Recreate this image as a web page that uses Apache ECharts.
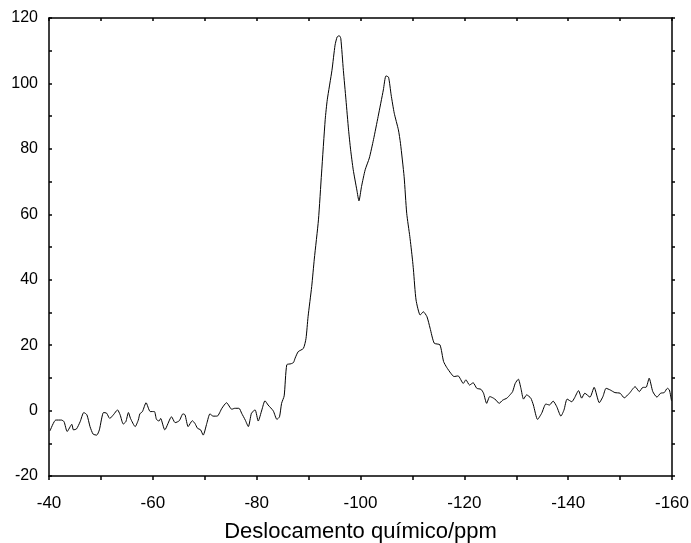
<!DOCTYPE html>
<html>
<head>
<meta charset="utf-8">
<script src="https://cdn.jsdelivr.net/npm/echarts@6/dist/echarts.min.js"></script>
<style>html,body{margin:0;padding:0;background:#fff;}#c{width:691px;height:543px;}</style>
</head>
<body>
<div id="c"></div>
<script>
const ppm = [-40.2,-41.3,-42.4,-42.9,-43.5,-44.4,-44.7,-45.3,-46.0,-46.7,-47.3,-47.9,-48.5,-49.2,-49.7,-50.5,-51.1,-51.7,-52.4,-53.2,-53.7,-54.3,-54.8,-55.3,-55.7,-56.6,-57.2,-57.5,-58.0,-58.7,-59.5,-60.3,-60.7,-61.2,-61.5,-62.3,-63.6,-64.3,-65.1,-65.8,-66.2,-66.8,-67.6,-68.1,-68.6,-69.2,-69.7,-70.4,-71.0,-71.6,-72.4,-73.3,-74.2,-75.2,-75.8,-76.6,-77.1,-77.8,-78.4,-79.0,-79.7,-80.3,-81.0,-81.6,-82.2,-83.2,-83.9,-84.4,-84.8,-85.3,-85.8,-86.6,-87.1,-87.4,-88.0,-89.0,-89.5,-89.9,-90.6,-91.1,-91.9,-92.5,-93.2,-93.6,-94.5,-95.1,-95.5,-95.9,-96.2,-96.7,-97.2,-97.7,-98.1,-98.6,-99.3,-99.7,-100.2,-100.9,-101.7,-102.5,-103.4,-104.4,-104.9,-105.4,-105.9,-106.5,-107.3,-107.7,-108.4,-108.9,-109.5,-110.0,-110.2,-110.7,-111.5,-112.1,-112.8,-113.4,-114.2,-115.3,-116.0,-116.6,-117.4,-118.0,-118.8,-119.8,-120.3,-121.0,-121.7,-122.4,-123.2,-123.7,-124.3,-124.9,-125.6,-126.1,-126.7,-127.4,-128.2,-128.8,-129.3,-129.8,-130.4,-130.9,-131.4,-132.0,-132.8,-133.3,-134.1,-134.9,-135.7,-136.4,-137.1,-137.8,-138.6,-139.2,-139.8,-140.7,-141.2,-142.0,-142.6,-143.2,-144.2,-145.0,-146.0,-146.7,-147.3,-148.1,-149.0,-150.0,-150.8,-151.8,-152.9,-153.7,-154.4,-155.0,-155.6,-156.3,-157.1,-157.8,-158.5,-159.1,-159.5,-159.9];
const intensity = [-6.2,-2.9,-2.9,-3.4,-6.4,-4.2,-5.9,-5.6,-3.4,-0.6,-1.3,-4.9,-7.2,-7.5,-5.9,-0.6,-0.8,-2.4,-1.3,0.2,-1.3,-4.1,-3.4,-0.6,-2.4,-4.9,-2.9,-1.0,-0.3,2.4,-0.3,-0.3,-2.7,-3.2,-2.4,-5.9,-1.9,-3.7,-3.1,-1.0,-1.3,-4.9,-3.1,-3.9,-5.4,-5.9,-7.5,-3.9,-1.0,-1.7,-1.7,0.7,2.4,0.4,0.7,0.7,-0.8,-2.9,-4.9,-0.8,0.2,-3.2,0.2,3.0,1.7,-0.1,-2.7,-1.9,2.2,4.5,14.0,14.3,14.7,16.0,18.0,19.0,22.0,28.7,37.9,46.3,58.3,72.6,88.9,95.0,104.0,111.7,114.2,114.6,113.8,104.0,95.0,85.8,79.7,73.6,67.4,64.1,68.5,73.6,77.2,82.8,89.9,98.0,102.3,101.9,96.5,90.9,85.8,81.7,71.5,60.3,53.2,46.3,43.0,33.8,29.2,30.2,28.7,25.2,20.6,20.1,15.0,13.2,11.4,10.4,10.6,8.3,9.4,7.8,8.5,6.8,6.5,5.3,2.2,4.3,3.8,3.2,2.2,3.2,3.8,4.8,5.8,8.3,9.6,6.8,3.5,4.8,3.8,1.7,-2.7,-0.8,2.0,1.7,2.9,1.2,-1.7,0.2,3.5,2.7,3.8,6.1,3.8,5.3,4.1,7.1,2.4,4.3,6.8,6.3,5.5,5.3,3.9,5.3,7.3,5.8,7.1,7.1,9.9,5.8,4.1,5.3,5.5,6.8,6.3,3.0];
const xTitle = 'Deslocamento químico/ppm';

const data = ppm.map((p, i) => [p, intensity[i]]);
const font = 'Liberation Sans, Arial, sans-serif';
const axisLine = { show: true, onZero: false, lineStyle: { color: '#000', width: 1.5 } };

const chart = echarts.init(document.getElementById('c'), null, { renderer: 'canvas' });
chart.setOption({
  animation: false,
  backgroundColor: '#fff',
  grid: { left: 49, right: 19, top: 18, bottom: 67, containLabel: false, outerBoundsMode: 'none' },
  xAxis: [{
    type: 'value', min: -160, max: -40, interval: 10, inverse: true, position: 'bottom',
    axisLine: axisLine,
    axisTick: { show: true, inside: false, length: 4, lineStyle: { color: '#000', width: 1.5 } },
    axisLabel: { color: '#000', fontSize: 17, fontFamily: font, margin: 19,
      formatter: v => (v % 20 === 0 ? String(v) : '') },
    splitLine: { show: false },
    name: xTitle, nameLocation: 'middle', nameGap: 45,
    nameTextStyle: { color: '#000', fontSize: 22, fontFamily: font }
  }, {
    type: 'value', min: -160, max: -40, interval: 10, inverse: true, position: 'top',
    axisLine: axisLine,
    axisTick: { show: true, inside: true, length: 3, lineStyle: { color: '#000', width: 1.5 } },
    axisLabel: { show: false }, splitLine: { show: false }
  }],
  yAxis: [{
    type: 'value', min: -20, max: 120, interval: 10, position: 'left',
    axisLine: axisLine,
    axisTick: { show: true, inside: true, length: 3, lineStyle: { color: '#000', width: 1.5 } },
    axisLabel: { color: '#000', fontSize: 16, fontFamily: font, margin: 11,
      formatter: v => (v % 20 === 0 ? String(v) : '') },
    splitLine: { show: false }
  }, {
    type: 'value', min: -20, max: 120, interval: 10, position: 'right',
    axisLine: axisLine,
    axisTick: { show: true, inside: false, length: 3, lineStyle: { color: '#000', width: 1.5 } },
    axisLabel: { show: false }, splitLine: { show: false }
  }],
  series: [{
    type: 'line', xAxisIndex: 0, yAxisIndex: 0, data: data,
    showSymbol: false, symbol: 'none', smooth: 0.2,
    lineStyle: { color: '#000', width: 1 }
  }]
});
</script>
</body>
</html>
